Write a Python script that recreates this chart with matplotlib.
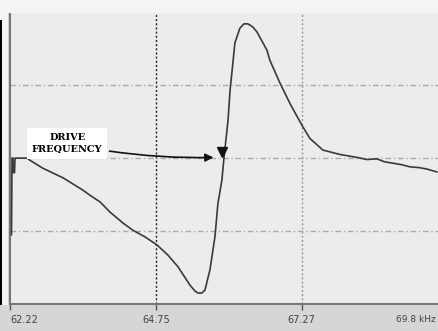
import matplotlib.pyplot as plt
from matplotlib.patches import Rectangle

# frequency (kHz) and response amplitude
freq = [62.246, 62.255, 62.272, 62.281, 62.298, 62.307, 62.514, 62.566, 62.791, 63.137,
        63.483, 63.605, 63.778, 63.951, 64.176, 64.349, 64.557, 64.764, 64.955, 65.128,
        65.335, 65.420, 65.474, 65.540, 65.595, 65.682, 65.768, 65.820, 65.889, 65.924,
        65.995, 66.030, 66.060, 66.114, 66.200, 66.270, 66.340, 66.420, 66.495, 66.668,
        66.720, 66.893, 67.066, 67.274, 67.412, 67.637, 67.931, 68.080, 68.226, 68.400,
        68.572, 68.700, 68.849, 69.000, 69.143, 69.300, 69.437, 69.610]
amp = [-1.05, 0.00, 0.00, -0.20, -0.20, 0.00, 0.00, -0.03, -0.14, -0.27,
       -0.44, -0.51, -0.60, -0.74, -0.89, -0.99, -1.08, -1.19, -1.33, -1.49,
       -1.74, -1.82, -1.85, -1.85, -1.81, -1.53, -1.08, -0.62, -0.30, 0.00,
       0.52, 0.93, 1.16, 1.58, 1.78, 1.84, 1.84, 1.80, 1.73, 1.48,
       1.34, 1.03, 0.75, 0.45, 0.27, 0.11, 0.05, 0.03, 0.01, -0.02,
       -0.01, -0.05, -0.07, -0.09, -0.12, -0.13, -0.15, -0.19]

grid_x = [64.75, 67.27]
grid_y = [-1, 0, 1]
tick_labels = ["62.22", "64.75", "67.27"]
drive_freq = 65.89

fig = plt.figure(figsize=(4.38, 3.31), dpi=100)
fig.patch.set_facecolor("#d6d6d6")
# white strip along the top and left, like the screen capture
fig.patches.append(Rectangle((0, 318 / 331), 1, 13 / 331, transform=fig.transFigure,
                             facecolor="#f4f4f4", edgecolor="none", zorder=0))
fig.patches.append(Rectangle((0, 0.08), 8 / 438, 0.92, transform=fig.transFigure,
                             facecolor="#f4f4f4", edgecolor="none", zorder=0))
fig.patches.append(Rectangle((0, 0.08), 2 / 438, 0.86, transform=fig.transFigure,
                             facecolor="black", edgecolor="none", zorder=1))

ax = fig.add_axes([10 / 438, 27 / 331, 428 / 438, 294 / 331])
ax.set_facecolor("#ececec")
ax.set_xlim(62.22, 69.63)
ax.set_ylim(-2.0, 2.03)

for gx, c in zip(grid_x, ["#222222", "#999999"]):
    ax.axvline(gx, color=c, lw=1, ls=(0, (1.5, 1.5)), zorder=1)
for gy in grid_y:
    ax.axhline(gy, color="#aaaaaa", lw=1, ls=(0, (4, 2, 1, 2)), zorder=1)

ax.plot(freq, amp, color="#3a3a3a", lw=1.2, zorder=3)

ax.plot([drive_freq], [0.09], marker="v", color="#111111", ms=7, zorder=4)
ax.annotate("DRIVE\nFREQUENCY", xy=(65.79, 0.01), xytext=(63.21, 0.2),
            fontsize=7, family="DejaVu Serif", fontweight="bold", ha="center",
            va="center", linespacing=1.5,
            bbox=dict(boxstyle="square,pad=0.45", fc="white", ec="none"),
            arrowprops=dict(arrowstyle="-|>", color="#111111", lw=1.2,
                            connectionstyle="arc3,rad=0.06", mutation_scale=12),
            zorder=5)

for side in ["top", "left", "bottom"]:
    ax.spines[side].set_color("#777777")
    ax.spines[side].set_linewidth(1.5)
ax.spines["right"].set_visible(False)

ax.set_yticks([])
ax.set_xticks([62.22] + grid_x)
ax.set_xticklabels(tick_labels, fontsize=7, color="#444444")
ax.get_xticklabels()[0].set_ha("left")
ax.tick_params(axis="x", length=4, width=1, color="#555555", pad=4)
fig.text(436 / 438, 11 / 331, "69.8 kHz", fontsize=6.5, color="#444444",
         va="center", ha="right")

fig.savefig("out.png", dpi=100, facecolor=fig.get_facecolor())
